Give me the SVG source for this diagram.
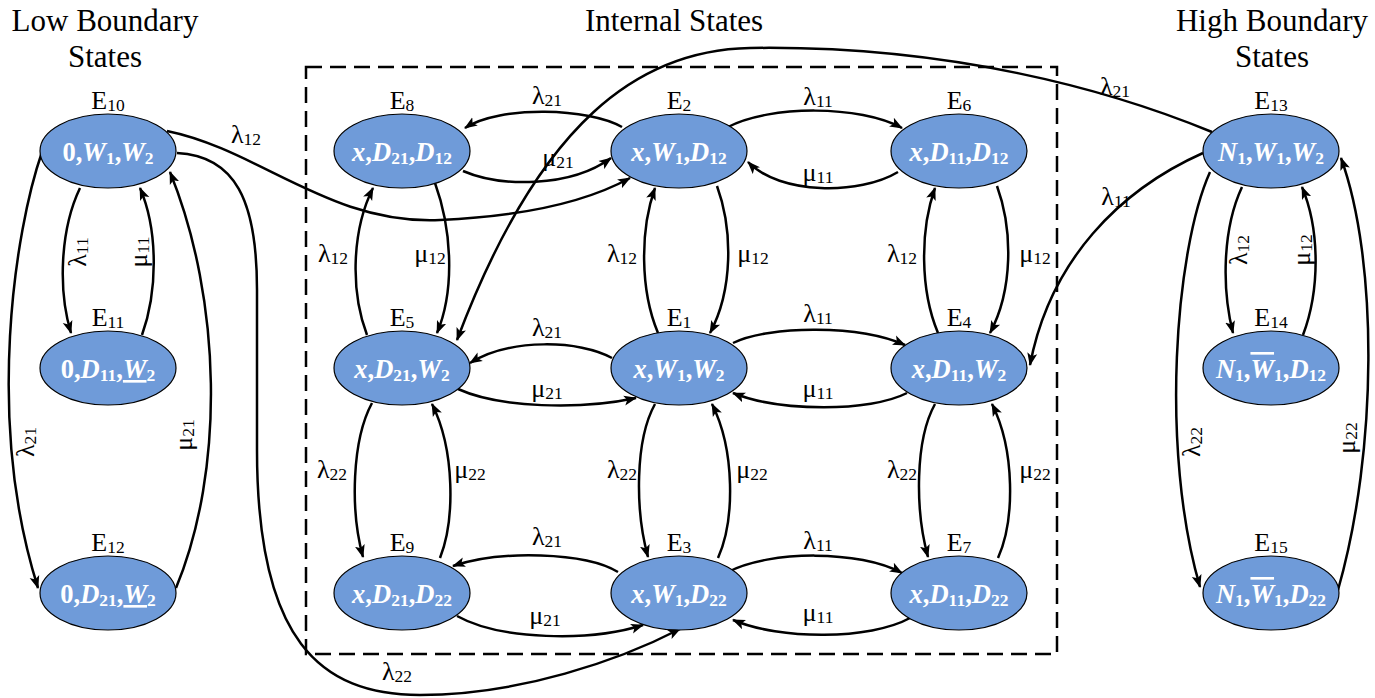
<svg xmlns="http://www.w3.org/2000/svg" width="1375" height="698" viewBox="0 0 1375 698">
<style>
.ell{fill:#6f9bd9;stroke:#000;stroke-width:1.2}
.nt{font-family:"Liberation Serif",serif;font-size:26.5px;font-weight:bold;fill:#fff;text-anchor:middle}
.i{font-style:italic}
.s{font-size:17.5px;font-style:normal}
.lb{font-family:"Liberation Serif",serif;font-size:26px;fill:#000;text-anchor:middle}
.e{fill:none;stroke:#000;stroke-width:2.5;marker-end:url(#ah)}
.ttl{font-family:"Liberation Serif",serif;font-size:31px;fill:#000;text-anchor:middle}
.box{fill:none;stroke:#000;stroke-width:2.5;stroke-dasharray:16 8}
</style>
<defs>
<marker id="ah" markerUnits="userSpaceOnUse" markerWidth="14" markerHeight="12" viewBox="0 0 14 12" refX="12" refY="6" orient="auto">
<path d="M0,1 L13,6 L0,11 L3,6 z" fill="#000"/>
</marker>
</defs>
<rect width="1375" height="698" fill="#fff"/>
<g id="titles">
<text class="ttl" x="105" y="31">Low Boundary</text>
<text class="ttl" x="105" y="67">States</text>
<text class="ttl" x="674" y="31">Internal States</text>
<text class="ttl" x="1272" y="31">High Boundary</text>
<text class="ttl" x="1272" y="67">States</text>
</g>
<rect id="internal-box" class="box" x="306" y="67" width="751" height="587"/>
<g id="connectors">
<path class="e" d="M80,188 C60,230 58,290 71,333"/>
<text class="lb" transform="translate(86,252) rotate(-90)">λ<tspan class="s" dy="2">11</tspan></text>
<path class="e" d="M142,335 C158,290 158,230 140,188"/>
<text class="lb" transform="translate(147,252) rotate(-90)">μ<tspan class="s" dy="2">11</tspan></text>
<path class="e" d="M42,152 C15,230 -15,420 38,588"/>
<text class="lb" transform="translate(34,442) rotate(-90)">λ<tspan class="s" dy="2">21</tspan></text>
<path class="e" d="M176,588 C225,470 222,300 170,172"/>
<text class="lb" transform="translate(192,435) rotate(-90)">μ<tspan class="s" dy="2">21</tspan></text>
<path class="e" d="M167,131 C260,150 330,225 440,220 C530,216 590,200 630,178"/>
<text class="lb" x="246" y="143">λ<tspan class="s" dy="2">12</tspan></text>
<path class="e" d="M177,153 C235,156 257,200 257,290 L257,450 C257,640 320,695 420,695 C520,695 620,660 680,629"/>
<text class="lb" x="397" y="680">λ<tspan class="s" dy="2">22</tspan></text>
<path class="e" d="M622,127 C590,108 500,105 465,128"/>
<text class="lb" x="547" y="104">λ<tspan class="s" dy="2">21</tspan></text>
<path class="e" d="M463,171 C500,187 570,188 611,158"/>
<text class="lb" x="558" y="166">μ<tspan class="s" dy="2">21</tspan></text>
<path class="e" d="M728,127 C770,105 860,105 902,128"/>
<text class="lb" x="818" y="105">λ<tspan class="s" dy="2">11</tspan></text>
<path class="e" d="M898,172 C860,195 780,195 748,162"/>
<text class="lb" x="818" y="181">μ<tspan class="s" dy="2">11</tspan></text>
<path class="e" d="M612,358 C580,340 510,338 470,363"/>
<text class="lb" x="547" y="336">λ<tspan class="s" dy="2">21</tspan></text>
<path class="e" d="M458,389 C500,408 580,410 636,398"/>
<text class="lb" x="547" y="397">μ<tspan class="s" dy="2">21</tspan></text>
<path class="e" d="M733,343 C770,325 860,325 905,345"/>
<text class="lb" x="818" y="322">λ<tspan class="s" dy="2">11</tspan></text>
<path class="e" d="M907,393 C870,412 780,412 733,393"/>
<text class="lb" x="818" y="397">μ<tspan class="s" dy="2">11</tspan></text>
<path class="e" d="M618,572 C585,552 500,550 453,566"/>
<text class="lb" x="547" y="545">λ<tspan class="s" dy="2">21</tspan></text>
<path class="e" d="M457,616 C500,640 590,642 643,625"/>
<text class="lb" x="545" y="624">μ<tspan class="s" dy="2">21</tspan></text>
<path class="e" d="M728,572 C770,550 860,550 902,573"/>
<text class="lb" x="818" y="549">λ<tspan class="s" dy="2">11</tspan></text>
<path class="e" d="M910,618 C870,640 780,640 733,620"/>
<text class="lb" x="818" y="621">μ<tspan class="s" dy="2">11</tspan></text>
<path class="e" d="M367,335 C350,290 352,230 373,188"/>
<text class="lb" x="333" y="262">λ<tspan class="s" dy="2">12</tspan></text>
<path class="e" d="M435,183 C452,230 455,290 437,333"/>
<text class="lb" x="430" y="262">μ<tspan class="s" dy="2">12</tspan></text>
<path class="e" d="M372,403 C352,440 350,510 363,557"/>
<text class="lb" x="332" y="478">λ<tspan class="s" dy="2">22</tspan></text>
<path class="e" d="M440,558 C455,520 455,450 432,404"/>
<text class="lb" x="470" y="478">μ<tspan class="s" dy="2">22</tspan></text>
<path class="e" d="M658,333 C640,290 640,230 655,188"/>
<text class="lb" x="622" y="262">λ<tspan class="s" dy="2">12</tspan></text>
<path class="e" d="M717,186 C733,230 733,290 710,333"/>
<text class="lb" x="753" y="262">μ<tspan class="s" dy="2">12</tspan></text>
<path class="e" d="M655,404 C635,440 635,510 648,557"/>
<text class="lb" x="622" y="478">λ<tspan class="s" dy="2">22</tspan></text>
<path class="e" d="M718,558 C735,520 735,450 712,404"/>
<text class="lb" x="752" y="478">μ<tspan class="s" dy="2">22</tspan></text>
<path class="e" d="M938,333 C920,290 920,230 935,188"/>
<text class="lb" x="902" y="262">λ<tspan class="s" dy="2">12</tspan></text>
<path class="e" d="M997,186 C1013,230 1013,290 990,333"/>
<text class="lb" x="1035" y="262">μ<tspan class="s" dy="2">12</tspan></text>
<path class="e" d="M935,404 C915,440 915,510 928,557"/>
<text class="lb" x="902" y="478">λ<tspan class="s" dy="2">22</tspan></text>
<path class="e" d="M998,558 C1015,520 1015,450 992,404"/>
<text class="lb" x="1035" y="478">μ<tspan class="s" dy="2">22</tspan></text>
<path class="e" d="M1212,132 C1110,90 950,45 750,48 C640,50 540,120 457,340"/>
<text class="lb" x="1115" y="95">λ<tspan class="s" dy="2">21</tspan></text>
<path class="e" d="M1203,153 C1120,190 1050,260 1030,365"/>
<text class="lb" x="1116" y="205">λ<tspan class="s" dy="2">11</tspan></text>
<path class="e" d="M1242,187 C1222,230 1222,290 1233,333"/>
<text class="lb" transform="translate(1247,250) rotate(-90)">λ<tspan class="s" dy="2">12</tspan></text>
<path class="e" d="M1303,335 C1320,290 1320,230 1302,187"/>
<text class="lb" transform="translate(1310,250) rotate(-90)">μ<tspan class="s" dy="2">12</tspan></text>
<path class="e" d="M1210,172 C1175,250 1160,450 1200,587"/>
<text class="lb" transform="translate(1200,442) rotate(-90)">λ<tspan class="s" dy="2">22</tspan></text>
<path class="e" d="M1338,590 C1378,450 1378,260 1341,158"/>
<text class="lb" transform="translate(1355,438) rotate(-90)">μ<tspan class="s" dy="2">22</tspan></text>
</g>
<g id="E10"><ellipse class="ell" cx="108" cy="151" rx="68" ry="37"/><text class="lb" x="108" y="109">E<tspan class="s" dy="2">10</tspan></text>
<text class="nt" x="108" y="161">0,<tspan class="i">W</tspan><tspan class="s" dy="3">1</tspan><tspan dy="-3">,</tspan><tspan class="i">W</tspan><tspan class="s" dy="3">2</tspan></text></g>
<g id="E11"><ellipse class="ell" cx="108" cy="368" rx="68" ry="37"/><text class="lb" x="108" y="326">E<tspan class="s" dy="2">11</tspan></text>
<text class="nt" x="108" y="378">0,<tspan class="i">D</tspan><tspan class="s" dy="3">11</tspan><tspan dy="-3">,</tspan><tspan class="i" text-decoration="underline">W</tspan><tspan class="s" dy="3">2</tspan></text></g>
<g id="E12"><ellipse class="ell" cx="108" cy="593" rx="68" ry="37"/><text class="lb" x="108" y="551">E<tspan class="s" dy="2">12</tspan></text>
<text class="nt" x="108" y="603">0,<tspan class="i">D</tspan><tspan class="s" dy="3">21</tspan><tspan dy="-3">,</tspan><tspan class="i" text-decoration="underline">W</tspan><tspan class="s" dy="3">2</tspan></text></g>
<g id="E8"><ellipse class="ell" cx="402" cy="151" rx="68" ry="37"/><text class="lb" x="402" y="109">E<tspan class="s" dy="2">8</tspan></text>
<text class="nt" x="402" y="161"><tspan class="i">x</tspan>,<tspan class="i">D</tspan><tspan class="s" dy="3">21</tspan><tspan dy="-3">,</tspan><tspan class="i">D</tspan><tspan class="s" dy="3">12</tspan></text></g>
<g id="E2"><ellipse class="ell" cx="679" cy="151" rx="68" ry="37"/><text class="lb" x="679" y="109">E<tspan class="s" dy="2">2</tspan></text>
<text class="nt" x="679" y="161"><tspan class="i">x</tspan>,<tspan class="i">W</tspan><tspan class="s" dy="3">1</tspan><tspan dy="-3">,</tspan><tspan class="i">D</tspan><tspan class="s" dy="3">12</tspan></text></g>
<g id="E6"><ellipse class="ell" cx="959" cy="151" rx="68" ry="37"/><text class="lb" x="959" y="109">E<tspan class="s" dy="2">6</tspan></text>
<text class="nt" x="959" y="161"><tspan class="i">x</tspan>,<tspan class="i">D</tspan><tspan class="s" dy="3">11</tspan><tspan dy="-3">,</tspan><tspan class="i">D</tspan><tspan class="s" dy="3">12</tspan></text></g>
<g id="E5"><ellipse class="ell" cx="402" cy="368" rx="68" ry="37"/><text class="lb" x="402" y="326">E<tspan class="s" dy="2">5</tspan></text>
<text class="nt" x="402" y="378"><tspan class="i">x</tspan>,<tspan class="i">D</tspan><tspan class="s" dy="3">21</tspan><tspan dy="-3">,</tspan><tspan class="i">W</tspan><tspan class="s" dy="3">2</tspan></text></g>
<g id="E1"><ellipse class="ell" cx="679" cy="368" rx="68" ry="37"/><text class="lb" x="679" y="326">E<tspan class="s" dy="2">1</tspan></text>
<text class="nt" x="679" y="378"><tspan class="i">x</tspan>,<tspan class="i">W</tspan><tspan class="s" dy="3">1</tspan><tspan dy="-3">,</tspan><tspan class="i">W</tspan><tspan class="s" dy="3">2</tspan></text></g>
<g id="E4"><ellipse class="ell" cx="959" cy="368" rx="68" ry="37"/><text class="lb" x="959" y="326">E<tspan class="s" dy="2">4</tspan></text>
<text class="nt" x="959" y="378"><tspan class="i">x</tspan>,<tspan class="i">D</tspan><tspan class="s" dy="3">11</tspan><tspan dy="-3">,</tspan><tspan class="i">W</tspan><tspan class="s" dy="3">2</tspan></text></g>
<g id="E9"><ellipse class="ell" cx="402" cy="593" rx="68" ry="37"/><text class="lb" x="402" y="551">E<tspan class="s" dy="2">9</tspan></text>
<text class="nt" x="402" y="603"><tspan class="i">x</tspan>,<tspan class="i">D</tspan><tspan class="s" dy="3">21</tspan><tspan dy="-3">,</tspan><tspan class="i">D</tspan><tspan class="s" dy="3">22</tspan></text></g>
<g id="E3"><ellipse class="ell" cx="679" cy="593" rx="68" ry="37"/><text class="lb" x="679" y="551">E<tspan class="s" dy="2">3</tspan></text>
<text class="nt" x="679" y="603"><tspan class="i">x</tspan>,<tspan class="i">W</tspan><tspan class="s" dy="3">1</tspan><tspan dy="-3">,</tspan><tspan class="i">D</tspan><tspan class="s" dy="3">22</tspan></text></g>
<g id="E7"><ellipse class="ell" cx="959" cy="593" rx="68" ry="37"/><text class="lb" x="959" y="551">E<tspan class="s" dy="2">7</tspan></text>
<text class="nt" x="959" y="603"><tspan class="i">x</tspan>,<tspan class="i">D</tspan><tspan class="s" dy="3">11</tspan><tspan dy="-3">,</tspan><tspan class="i">D</tspan><tspan class="s" dy="3">22</tspan></text></g>
<g id="E13"><ellipse class="ell" cx="1271" cy="151" rx="68" ry="37"/><text class="lb" x="1271" y="109">E<tspan class="s" dy="2">13</tspan></text>
<text class="nt" x="1271" y="161"><tspan class="i">N</tspan><tspan class="s" dy="3">1</tspan><tspan dy="-3">,</tspan><tspan class="i">W</tspan><tspan class="s" dy="3">1</tspan><tspan dy="-3">,</tspan><tspan class="i">W</tspan><tspan class="s" dy="3">2</tspan></text></g>
<g id="E14"><ellipse class="ell" cx="1271" cy="368" rx="68" ry="37"/><text class="lb" x="1271" y="326">E<tspan class="s" dy="2">14</tspan></text>
<text class="nt" x="1271" y="378"><tspan class="i">N</tspan><tspan class="s" dy="3">1</tspan><tspan dy="-3">,</tspan><tspan class="i" text-decoration="overline">W</tspan><tspan class="s" dy="3">1</tspan><tspan dy="-3">,</tspan><tspan class="i">D</tspan><tspan class="s" dy="3">12</tspan></text></g>
<g id="E15"><ellipse class="ell" cx="1271" cy="593" rx="68" ry="37"/><text class="lb" x="1271" y="551">E<tspan class="s" dy="2">15</tspan></text>
<text class="nt" x="1271" y="603"><tspan class="i">N</tspan><tspan class="s" dy="3">1</tspan><tspan dy="-3">,</tspan><tspan class="i" text-decoration="overline">W</tspan><tspan class="s" dy="3">1</tspan><tspan dy="-3">,</tspan><tspan class="i">D</tspan><tspan class="s" dy="3">22</tspan></text></g>
</svg>
